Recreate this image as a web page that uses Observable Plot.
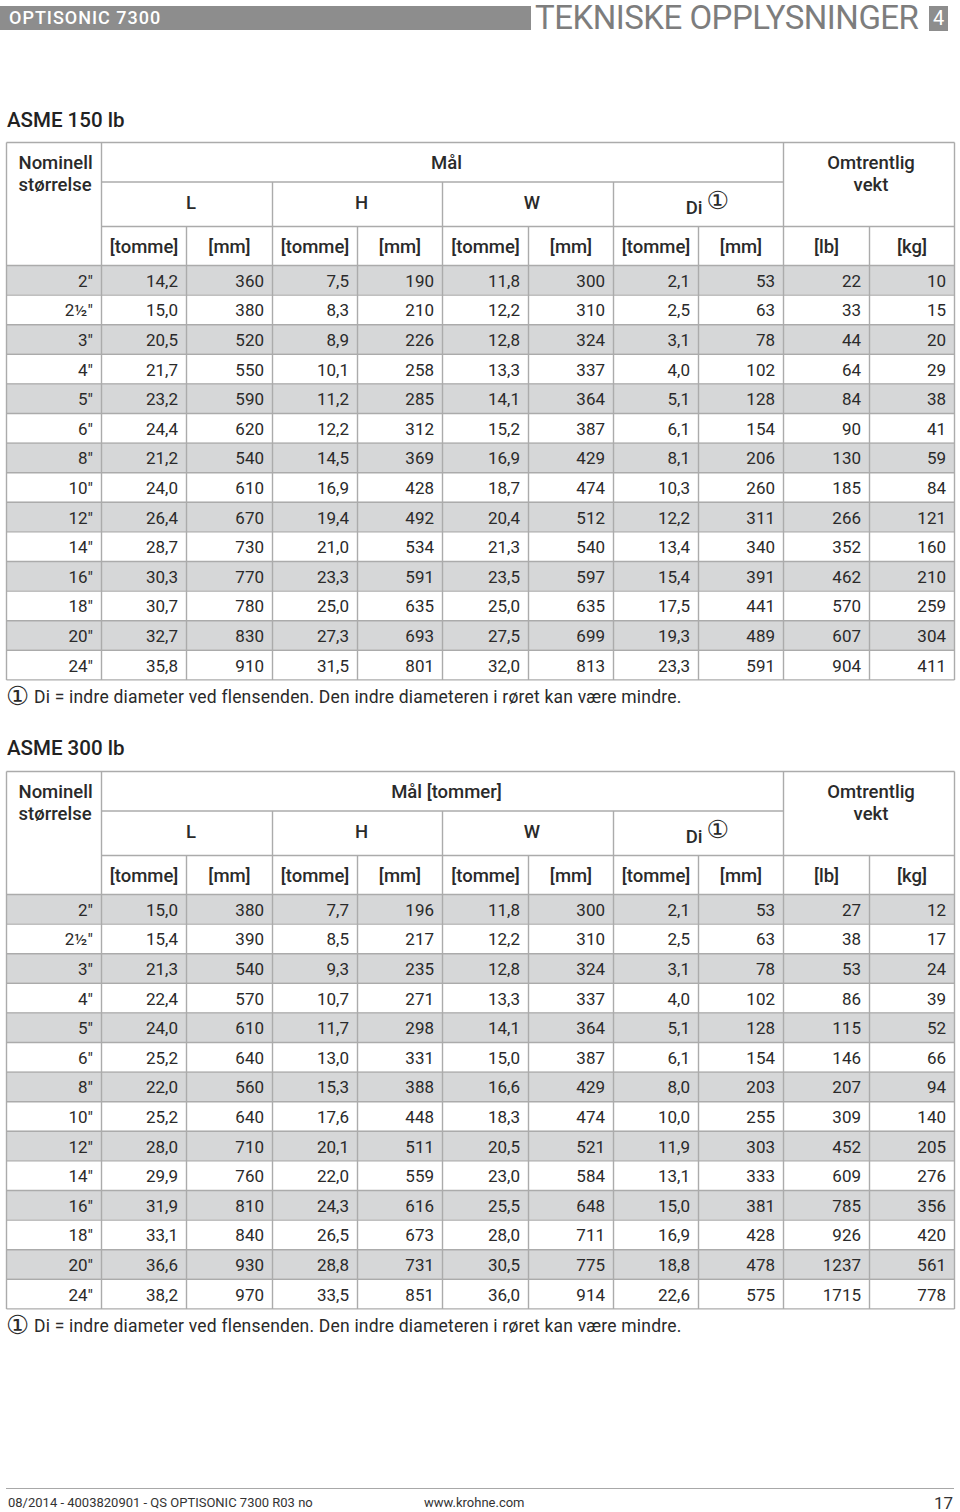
<!DOCTYPE html>
<html>
<head>
<meta charset="utf-8">
<script src="https://cdn.jsdelivr.net/npm/d3@7"></script>
<script src="https://cdn.jsdelivr.net/npm/@observablehq/plot@0.6"></script>
<style>
  html, body { margin: 0; padding: 0; background: #fff; }
  body { width: 960px; height: 1512px; position: relative; font-family: Roboto, "Noto Sans", sans-serif; color: #222; overflow: hidden; }
  .abs { position: absolute; white-space: nowrap; }
</style>
</head>
<body>
<div id="page"></div>
<script>
// ---------------- data ----------------
const sizes = ['2"', '2½"', '3"', '4"', '5"', '6"', '8"', '10"', '12"', '14"', '16"', '18"', '20"', '24"'];
const groupLabels = ["L", "H", "W", "Di"];
const unitLabels = ["[tomme]", "[mm]", "[tomme]", "[mm]", "[tomme]", "[mm]", "[tomme]", "[mm]", "[lb]", "[kg]"];

// ASME 150 lb
const L_in150  = [14.2, 15.0, 20.5, 21.7, 23.2, 24.4, 21.2, 24.0, 26.4, 28.7, 30.3, 30.7, 32.7, 35.8];
const L_mm150  = [360, 380, 520, 550, 590, 620, 540, 610, 670, 730, 770, 780, 830, 910];
const H_in150  = [7.5, 8.3, 8.9, 10.1, 11.2, 12.2, 14.5, 16.9, 19.4, 21.0, 23.3, 25.0, 27.3, 31.5];
const H_mm150  = [190, 210, 226, 258, 285, 312, 369, 428, 492, 534, 591, 635, 693, 801];
const W_in150  = [11.8, 12.2, 12.8, 13.3, 14.1, 15.2, 16.9, 18.7, 20.4, 21.3, 23.5, 25.0, 27.5, 32.0];
const W_mm150  = [300, 310, 324, 337, 364, 387, 429, 474, 512, 540, 597, 635, 699, 813];
const Di_in150 = [2.1, 2.5, 3.1, 4.0, 5.1, 6.1, 8.1, 10.3, 12.2, 13.4, 15.4, 17.5, 19.3, 23.3];
const Di_mm150 = [53, 63, 78, 102, 128, 154, 206, 260, 311, 340, 391, 441, 489, 591];
const lb150    = [22, 33, 44, 64, 84, 90, 130, 185, 266, 352, 462, 570, 607, 904];
const kg150    = [10, 15, 20, 29, 38, 41, 59, 84, 121, 160, 210, 259, 304, 411];

// ASME 300 lb
const L_in300  = [15.0, 15.4, 21.3, 22.4, 24.0, 25.2, 22.0, 25.2, 28.0, 29.9, 31.9, 33.1, 36.6, 38.2];
const L_mm300  = [380, 390, 540, 570, 610, 640, 560, 640, 710, 760, 810, 840, 930, 970];
const H_in300  = [7.7, 8.5, 9.3, 10.7, 11.7, 13.0, 15.3, 17.6, 20.1, 22.0, 24.3, 26.5, 28.8, 33.5];
const H_mm300  = [196, 217, 235, 271, 298, 331, 388, 448, 511, 559, 616, 673, 731, 851];
const W_in300  = [11.8, 12.2, 12.8, 13.3, 14.1, 15.0, 16.6, 18.3, 20.5, 23.0, 25.5, 28.0, 30.5, 36.0];
const W_mm300  = [300, 310, 324, 337, 364, 387, 429, 474, 521, 584, 648, 711, 775, 914];
const Di_in300 = [2.1, 2.5, 3.1, 4.0, 5.1, 6.1, 8.0, 10.0, 11.9, 13.1, 15.0, 16.9, 18.8, 22.6];
const Di_mm300 = [53, 63, 78, 102, 128, 154, 203, 255, 303, 333, 381, 428, 478, 575];
const lb300    = [27, 38, 53, 86, 115, 146, 207, 309, 452, 609, 785, 926, 1237, 1715];
const kg300    = [12, 17, 24, 39, 52, 66, 94, 140, 205, 276, 356, 420, 561, 778];

// ---------------- layout ----------------
const colEdges = [6, 101, 186, 272, 357, 442, 528, 613, 698, 783, 869, 954];
const headerY = [0, 39.5, 84, 123];
const rowH = 29.6;
const gridColor = "#ababab";
const bandFill = "#d6d7d8";
const textColor = "#2a2a2a";
const FONT = "Roboto, 'Noto Sans', sans-serif";
const CIRCLE_FONT = "'DejaVu Sans', 'Noto Sans CJK SC', sans-serif";

const fmtIn = v => v.toFixed(1).replace(".", ",");
const fmtInt = v => String(v);

function buildTable(columns, malLabel) {
  const n = sizes.length;
  const H = headerY[3] + n * rowH;
  const rowTop = i => headerY[3] + i * rowH;
  const formats = [fmtIn, fmtInt, fmtIn, fmtInt, fmtIn, fmtInt, fmtIn, fmtInt, fmtInt, fmtInt];

  const cells = [];
  sizes.forEach((s, i) => {
    cells.push({row: i, col: 0, text: s});
    columns.forEach((arr, j) => cells.push({row: i, col: j + 1, text: formats[j](arr[i])}));
  });
  const bands = d3.range(n).filter(i => i % 2 === 0);

  const segs = [];
  const L = colEdges[0], R = colEdges[colEdges.length - 1];
  segs.push({x1: L, x2: R, y1: 0, y2: 0});
  segs.push({x1: colEdges[1], x2: colEdges[9], y1: headerY[1], y2: headerY[1]});
  segs.push({x1: colEdges[1], x2: R, y1: headerY[2], y2: headerY[2]});
  for (let i = 0; i <= n; i++) segs.push({x1: L, x2: R, y1: rowTop(i), y2: rowTop(i)});
  [0, 1, 9, 11].forEach(k => segs.push({x1: colEdges[k], x2: colEdges[k], y1: 0, y2: H}));
  [3, 5, 7].forEach(k => segs.push({x1: colEdges[k], x2: colEdges[k], y1: headerY[1], y2: H}));
  [2, 4, 6, 8, 10].forEach(k => segs.push({x1: colEdges[k], x2: colEdges[k], y1: headerY[2], y2: H}));

  const groupCenters = [0, 1, 2, 3].map(g => (colEdges[1 + 2 * g] + colEdges[3 + 2 * g]) / 2);
  const unitCenters = unitLabels.map((u, j) => (colEdges[j + 1] + colEdges[j + 2]) / 2);

  const startTexts = [{x: colEdges[0] + 12, y: 30, text: "Nominell\nstørrelse"}];
  const midTexts = [
    {x: (colEdges[1] + colEdges[9]) / 2 + 4, y: 19.5, text: malLabel},
    {x: (colEdges[9] + colEdges[11]) / 2 + 2, y: 30, text: "Omtrentlig\nvekt"}
  ];
  const groupTexts = groupLabels.slice(0, 3).map((g, k) => ({x: groupCenters[k] + 4, y: 59.5, text: g}));
  const headStyle = {fontSize: 18.5, fontWeight: 500, lineHeight: 1.2, fill: textColor};

  return Plot.plot({
    width: 960,
    height: Math.ceil(H) + 3,
    margin: 0,
    x: {type: "linear", domain: [0, 960], range: [0, 960], axis: null},
    y: {type: "linear", domain: [-1, Math.ceil(H) + 2], range: [0, Math.ceil(H) + 3], axis: null},
    style: {fontFamily: FONT, background: "transparent", overflow: "visible"},
    marks: [
      Plot.rect(bands, {x1: () => colEdges[0], x2: () => colEdges[11], y1: i => rowTop(i), y2: i => rowTop(i) + rowH, fill: bandFill}),
      Plot.link(segs, {x1: "x1", y1: "y1", x2: "x2", y2: "y2", stroke: gridColor, strokeWidth: 1.4}),
      Plot.text(cells, {
        x: d => colEdges[d.col + 1] - 8.5,
        y: d => rowTop(d.row) + rowH / 2 + 1,
        text: "text", textAnchor: "end", fontSize: 17, fill: textColor
      }),
      Plot.text(startTexts, {x: "x", y: "y", text: "text", textAnchor: "start", ...headStyle}),
      Plot.text(midTexts, {x: "x", y: "y", text: "text", textAnchor: "middle", ...headStyle}),
      Plot.text(groupTexts, {x: "x", y: "y", text: "text", textAnchor: "middle", ...headStyle}),
      Plot.text([groupLabels[3]], {x: () => groupCenters[3] + 4, y: () => 64, text: d => d, textAnchor: "end", ...headStyle}),
      Plot.text(["①"], {x: () => groupCenters[3] + 8, y: () => 58, text: d => d, textAnchor: "start", fontSize: 25, fontFamily: CIRCLE_FONT, fill: textColor}),
      Plot.text(unitLabels, {x: (d, j) => unitCenters[j], y: () => 103.5, text: d => d, textAnchor: "middle", ...headStyle})
    ]
  });
}

const page = document.getElementById("page");
function addDiv(html, style) {
  const d = document.createElement("div");
  d.className = "abs";
  d.innerHTML = html;
  Object.assign(d.style, style);
  page.appendChild(d);
  return d;
}

// page header
addDiv("", {left: "0px", top: "6px", width: "531px", height: "24px", background: "#8d8d8d"});
addDiv("OPTISONIC 7300", {left: "9px", top: "6px", height: "24px", lineHeight: "24px", fontSize: "18px", color: "#fff", fontWeight: 500, letterSpacing: "1px"});
addDiv("TEKNISKE OPPLYSNINGER", {left: "535px", top: "-1px", height: "38px", lineHeight: "38px", fontSize: "33px", color: "#7d7d7d", letterSpacing: "-0.5px"});
addDiv("4", {left: "929px", top: "6px", width: "19px", height: "25px", lineHeight: "25px", fontSize: "20px", color: "#fff", background: "#8d8d8d", textAlign: "center"});

// ASME 150 lb
addDiv("ASME 150 lb", {left: "7px", top: "107px", height: "26px", lineHeight: "26px", fontSize: "20.5px", fontWeight: 500});
const t1 = buildTable([L_in150, L_mm150, H_in150, H_mm150, W_in150, W_mm150, Di_in150, Di_mm150, lb150, kg150], "Mål");
t1.style.position = "absolute"; t1.style.left = "0px"; t1.style.top = "141px";
page.appendChild(t1);
const foot = "<span style=\"font-family:'DejaVu Sans','Noto Sans CJK SC',sans-serif;font-size:26px;display:inline-block;width:28px;vertical-align:-2px\">①</span>Di = indre diameter ved flensenden. Den indre diameteren i røret kan være mindre.";
addDiv(foot, {left: "6px", top: "683px", height: "26px", lineHeight: "26px", fontSize: "17.5px", letterSpacing: "0.2px", color: textColor});

// ASME 300 lb
addDiv("ASME 300 lb", {left: "7px", top: "735px", height: "26px", lineHeight: "26px", fontSize: "20.5px", fontWeight: 500});
const t2 = buildTable([L_in300, L_mm300, H_in300, H_mm300, W_in300, W_mm300, Di_in300, Di_mm300, lb300, kg300], "Mål [tommer]");
t2.style.position = "absolute"; t2.style.left = "0px"; t2.style.top = "770px";
page.appendChild(t2);
addDiv(foot, {left: "6px", top: "1312px", height: "26px", lineHeight: "26px", fontSize: "17.5px", letterSpacing: "0.2px", color: textColor});

// page footer
addDiv("", {left: "6px", top: "1488px", width: "948px", height: "1px", background: "#a8a8a8"});
addDiv("08/2014 - 4003820901 - QS OPTISONIC 7300 R03 no", {left: "8px", top: "1494px", height: "18px", lineHeight: "18px", fontSize: "13px", color: "#333"});
addDiv("www.krohne.com", {left: "424px", top: "1494px", height: "18px", lineHeight: "18px", fontSize: "13px", color: "#333"});
addDiv("17", {right: "7px", top: "1493px", height: "20px", lineHeight: "20px", fontSize: "17px", color: "#333"});
</script>
</body>
</html>
